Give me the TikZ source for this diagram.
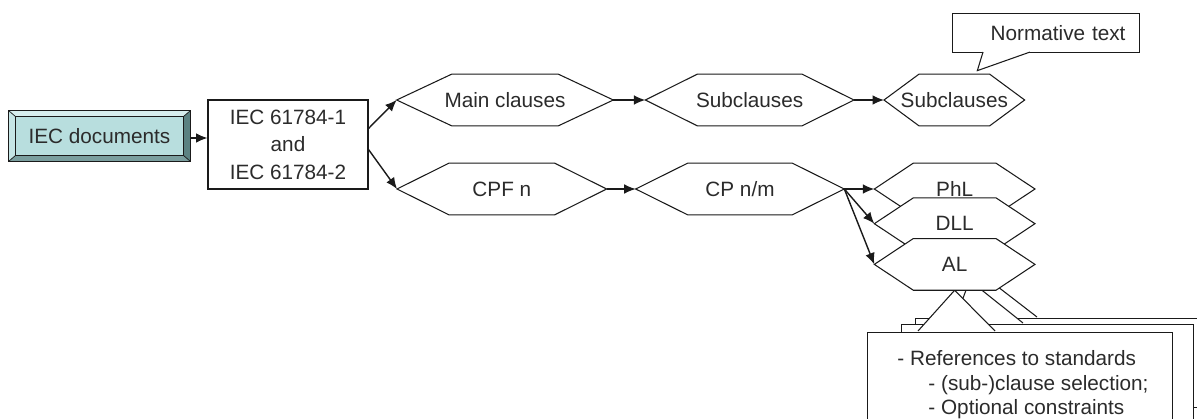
\documentclass[tikz,border=0pt]{standalone}
\usepackage{fontspec}
\setmainfont{Liberation Sans}
\usetikzlibrary{positioning,arrows.meta,backgrounds}
\pgfdeclarelayer{callouts}
\pgfsetlayers{callouts,background,main}
\definecolor{linegray}{HTML}{1A1A1A}
\definecolor{txtgray}{HTML}{2B2B2B}
\definecolor{btnface}{HTML}{B8DEDE}
\definecolor{btnlight}{HTML}{D6EDED}
\definecolor{btnmid}{HTML}{C6E5E5}
\definecolor{btndark}{HTML}{7A9E9E}
\definecolor{btnshade}{HTML}{5C8282}

\begin{document}
\begin{tikzpicture}[
    x=0.02cm, y=-0.02cm,
    every node/.style={font=\fontsize{11.8}{14.2}\selectfont, text=txtgray},
    hexa/.style={minimum height=1.02cm, inner sep=0pt},
    hexline/.style={draw=linegray, fill=white, line width=0.6pt, line join=miter},
    stdbox/.style={
        draw=linegray, fill=white, line width=0.6pt,
        minimum width=3.2cm, minimum height=1.78cm, inner sep=0pt,
        align=center, font=\fontsize{11.8}{15.6}\selectfont
    },
    callbox/.style={draw=linegray, fill=white, line width=0.6pt, inner sep=0pt},
    arr/.style={-{Latex[length=6.5pt, width=5.5pt]}, line width=0.8pt, color=linegray},
]

% === Frame ===
\useasboundingbox (0,0) rectangle (1197,419);
\clip (0,0) rectangle (1197,419);

% === Left: source documents ===
\node[fill=btnface, minimum width=3.62cm, minimum height=1.0cm, inner sep=0pt] (iec) at (99.5,136) {IEC documents};
\fill[btnlight] (iec.north west) -- (iec.north east) -- ([shift={(-7,6)}]iec.north east) -- ([shift={(7,6)}]iec.north west) -- cycle;
\fill[btnmid] (iec.north west) -- ([shift={(7,6)}]iec.north west) -- ([shift={(7,-6)}]iec.south west) -- (iec.south west) -- cycle;
\fill[btndark] (iec.south west) -- ([shift={(7,-6)}]iec.south west) -- ([shift={(-7,-6)}]iec.south east) -- (iec.south east) -- cycle;
\fill[btnshade] (iec.north east) -- (iec.south east) -- ([shift={(-7,-6)}]iec.south east) -- ([shift={(-7,6)}]iec.north east) -- cycle;
\draw[linegray, line width=0.5pt] (iec.north west) rectangle (iec.south east);
\draw[linegray, line width=0.5pt] ([shift={(7,6)}]iec.north west) rectangle ([shift={(-7,-6)}]iec.south east);
\draw[linegray, line width=0.4pt] (iec.north west) -- ([shift={(7,6)}]iec.north west)
    (iec.north east) -- ([shift={(-7,6)}]iec.north east)
    (iec.south west) -- ([shift={(7,-6)}]iec.south west)
    (iec.south east) -- ([shift={(-7,-6)}]iec.south east);

\node[stdbox] (std) at (288,144.5) {IEC 61784-1\\and\\IEC 61784-2};
\draw[arr] ([yshift=-0.04cm]iec.east) -- ([yshift=-0.04cm]iec.east -| std.west);

% === Top row: clauses ===
\node[hexa, minimum width=4.32cm] (main) at (505,100) {Main clauses};
\node[hexa, minimum width=4.16cm, right=0.64cm of main] (sub) {Subclauses};
\node[hexa, minimum width=2.80cm, right=0.60cm of sub] (subb) {Subclauses};

% === Bottom row: profiles and layers ===
\node[hexa, minimum width=4.18cm, anchor=west] (cpf) at (397,189) {CPF n};
\node[hexa, minimum width=4.16cm, right=0.58cm of cpf] (cp) {CP n/m};
\node[hexa, minimum width=3.20cm, right=0.60cm of cp] (phl) {PhL};
\node[hexa, minimum width=3.20cm, below=-0.34cm of phl] (dll) {DLL};
\node[hexa, minimum width=3.20cm, below=-0.22cm of dll] (al) {AL};

% Hexagon outlines
\begin{scope}[on background layer]
\foreach \n/\s in {main/55,sub/52,subb/35,cpf/52,cp/52,phl/39,dll/39,al/39} {
    \draw[hexline] (\n.west) -- ([shift={(\s,0)}]\n.north west) -- ([shift={(-\s,0)}]\n.north east)
        -- (\n.east) -- ([shift={(-\s,0)}]\n.south east) -- ([shift={(\s,0)}]\n.south west) -- cycle;
}
\end{scope}

% Arrows
\draw[arr] ([yshift=0.32cm]std.east) -- (main.west);
\draw[arr] ([yshift=-0.1cm]std.east) -- (cpf.west);
\draw[arr] (main.east) -- (sub.west);
\draw[arr] (sub.east) -- (subb.west);
\draw[arr] (cpf.east) -- (cp.west);
\foreach \n in {phl,dll,al} {
    \draw[arr] (cp.east) -- (\n.west);
}

% === Callout: normative text ===
\node[callbox, anchor=north west, text width=3.18cm, inner xsep=0.28cm, minimum height=0.78cm, align=right]
    (normtext) at (952,13) {Normative text};
\draw[hexline] ([shift={(31,-1)}]normtext.south west) -- ([shift={(23,-3.5)}]subb.north)
    -- ([shift={(78,-1)}]normtext.south west);

% === Callouts below the layers ===
\begin{pgfonlayer}{callouts}
\node[callbox, anchor=north west, minimum width=6cm, minimum height=1.78cm] (back3) at (915,318) {};
\draw[hexline] ([shift={(55,-1)}]back3.north west) -- ([shift={(31,13)}]al.center)
    -- ([shift={(122,-1)}]back3.north west);
\node[callbox, anchor=north west, minimum width=5.84cm, minimum height=2.4cm] (back2) at (901,324) {};
\draw[hexline] ([shift={(52.7,-1)}]back2.north west) -- ([shift={(15,16)}]al.center)
    -- ([shift={(122,-1)}]back2.north west);
\node[callbox, anchor=north west, minimum width=6.10cm, inner ysep=0.35cm, align=left,
    font=\fontsize{11.8}{14.2}\selectfont]
    (refs) at (867,332) {\hspace*{0.12cm}- References to standards\\
    \hspace*{0.74cm}- (sub-)clause selection;\\
    \hspace*{0.74cm}- Optional constraints};
\draw[hexline] ([shift={(51,-1)}]refs.north west) -- (al.south)
    -- ([shift={(128,-1)}]refs.north west);
\end{pgfonlayer}

\end{tikzpicture}
\end{document}
